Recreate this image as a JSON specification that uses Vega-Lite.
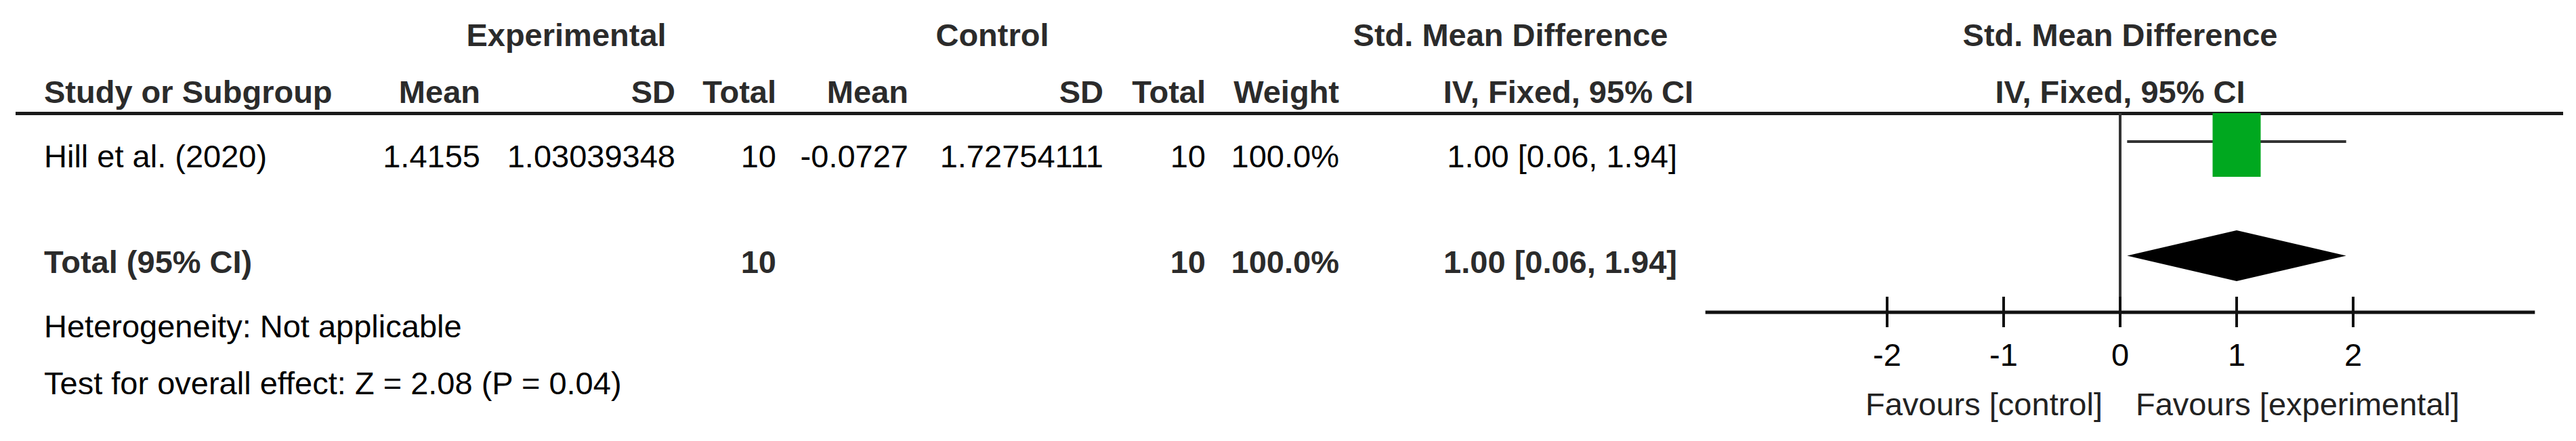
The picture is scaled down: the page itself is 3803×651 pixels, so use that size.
{
  "$schema": "https://vega.github.io/schema/vega-lite/v6.json",
  "width": 3803,
  "height": 651,
  "autosize": {"type": "fit", "contains": "padding"},
  "padding": 0,
  "background": "#ffffff",
  "config": {"view": {"stroke": null}},
  "datasets": {
    "groupHeads": [
      {"col": 1, "row": 0, "label": "Experimental"},
      {"col": 5, "row": 0, "label": "Control"},
      {"col": 10, "row": 0, "label": "Std. Mean Difference"},
      {"col": 13, "row": 0, "label": "Std. Mean Difference"},
      {"col": 13, "row": 1, "label": "IV, Fixed, 95% CI"}
    ],
    "colHeads": [
      {"col": 2, "row": 1, "label": "Mean"},
      {"col": 3, "row": 1, "label": "SD"},
      {"col": 4, "row": 1, "label": "Total"},
      {"col": 6, "row": 1, "label": "Mean"},
      {"col": 7, "row": 1, "label": "SD"},
      {"col": 8, "row": 1, "label": "Total"},
      {"col": 9, "row": 1, "label": "Weight"},
      {"col": 12, "row": 1, "label": "IV, Fixed, 95% CI"}
    ],
    "boldLabels": [
      {"col": 0, "row": 1, "label": "Study or Subgroup"},
      {"col": 0, "row": 3, "label": "Total (95% CI)"}
    ],
    "plainLabels": [
      {"col": 0, "row": 2, "label": "Hill et al. (2020)"},
      {"col": 0, "row": 4, "label": "Heterogeneity: Not applicable"},
      {"col": 0, "row": 5, "label": "Test for overall effect: Z = 2.08 (P = 0.04)"}
    ],
    "studyCells": [
      {"col": 2, "row": 2, "label": "1.4155"},
      {"col": 3, "row": 2, "label": "1.03039348"},
      {"col": 4, "row": 2, "label": "10"},
      {"col": 6, "row": 2, "label": "-0.0727"},
      {"col": 7, "row": 2, "label": "1.72754111"},
      {"col": 8, "row": 2, "label": "10"},
      {"col": 9, "row": 2, "label": "100.0%"},
      {"col": 11, "row": 2, "label": "1.00 [0.06, 1.94]"}
    ],
    "totalCells": [
      {"col": 4, "row": 3, "label": "10"},
      {"col": 8, "row": 3, "label": "10"},
      {"col": 9, "row": 3, "label": "100.0%"},
      {"col": 11, "row": 3, "label": "1.00 [0.06, 1.94]"}
    ],
    "studies": [{"study": "Hill et al. (2020)", "smd": 1.0, "lo": 0.06, "hi": 1.94}],
    "pooled": [
      {"x": 0.06, "top": 0, "bottom": 0},
      {"x": 1.0, "top": 1, "bottom": -1},
      {"x": 1.94, "top": 0, "bottom": 0}
    ],
    "ticks": [
      {"tick": -2, "label": "-2"},
      {"tick": -1, "label": "-1"},
      {"tick": 0, "label": "0"},
      {"tick": 1, "label": "1"},
      {"tick": 2, "label": "2"}
    ],
    "favours": [
      {"side": "control", "label": "Favours [control]"},
      {"side": "experimental", "label": "Favours [experimental]"}
    ]
  },
  "resolve": {"scale": {"x": "independent", "y": "independent"}},
  "layer": [
    {
      "data": {"values": [{}]},
      "mark": {"type": "rule", "strokeWidth": 5, "color": "#1a1a1a"},
      "encoding": {
        "x": {"datum": -1, "type": "quantitative", "axis": null, "scale": {"type": "linear", "domain": [-1, 0, 1, 2, 3, 4, 5, 6, 7, 8, 9, 10, 11, 12, 13, 14], "range": [23, 65, 836, 709, 997, 1146, 1465, 1341, 1629, 1780, 1977, 2230, 2476, 2500, 3130, 3784], "nice": false, "zero": false}},
        "x2": {"datum": 14},
        "y": {"datum": 1.5, "type": "quantitative", "axis": null, "scale": {"type": "linear", "domain": [0, 1, 1.5, 2, 3, 4, 5], "range": [68, 152, 167.5, 247, 403, 498, 582], "nice": false, "zero": false}}
      }
    },
    {
      "data": {"values": [{}]},
      "mark": {"type": "rule", "strokeWidth": 4, "color": "#333333"},
      "encoding": {
        "x": {"datum": 0, "type": "quantitative", "axis": null, "scale": {"type": "linear", "domain": [-2, 2], "range": [2786, 3474], "nice": false, "zero": false}},
        "y": {"datum": 1, "type": "quantitative", "axis": null, "scale": {"type": "linear", "domain": [1, 2, 3, 4, 5, 6], "range": [167, 209, 377, 461, 540, 613], "nice": false, "zero": false}},
        "y2": {"datum": 4}
      }
    },
    {
      "data": {"name": "studies"},
      "mark": {"type": "rule", "strokeWidth": 4, "color": "#333333"},
      "encoding": {
        "x": {"field": "lo", "type": "quantitative", "axis": null, "scale": {"type": "linear", "domain": [-2, 2], "range": [2786, 3474], "nice": false, "zero": false}},
        "x2": {"field": "hi"},
        "y": {"datum": 2, "type": "quantitative", "axis": null, "scale": {"type": "linear", "domain": [1, 2, 3, 4, 5, 6], "range": [167, 209, 377, 461, 540, 613], "nice": false, "zero": false}}
      }
    },
    {
      "data": {"name": "studies"},
      "mark": {"type": "point", "shape": "M-0.755,-1L0.755,-1L0.755,1L-0.755,1Z", "size": 8836, "filled": true, "opacity": 1, "color": "#00a81f", "yOffset": 5},
      "encoding": {
        "x": {"field": "smd", "type": "quantitative", "axis": null, "scale": {"type": "linear", "domain": [-2, 2], "range": [2786, 3474], "nice": false, "zero": false}},
        "y": {"datum": 2, "type": "quantitative", "axis": null, "scale": {"type": "linear", "domain": [1, 2, 3, 4, 5, 6], "range": [167, 209, 377, 461, 540, 613], "nice": false, "zero": false}}
      }
    },
    {
      "data": {"name": "pooled"},
      "mark": {"type": "area", "color": "#000000", "opacity": 1},
      "encoding": {
        "x": {"field": "x", "type": "quantitative", "axis": null, "scale": {"type": "linear", "domain": [-2, 2], "range": [2786, 3474], "nice": false, "zero": false}},
        "y": {"field": "top", "type": "quantitative", "axis": null, "scale": {"type": "linear", "domain": [-1, 1], "range": [415, 340], "nice": false, "zero": false}},
        "y2": {"field": "bottom"}
      }
    },
    {
      "data": {"values": [{}]},
      "mark": {"type": "rule", "strokeWidth": 5, "color": "#111111"},
      "encoding": {
        "x": {"datum": -3.56, "type": "quantitative", "axis": null, "scale": {"type": "linear", "domain": [-2, 2], "range": [2786, 3474], "nice": false, "zero": false}},
        "x2": {"datum": 3.56},
        "y": {"datum": 4, "type": "quantitative", "axis": null, "scale": {"type": "linear", "domain": [1, 2, 3, 4, 5, 6], "range": [167, 209, 377, 461, 540, 613], "nice": false, "zero": false}}
      }
    },
    {
      "data": {"name": "ticks"},
      "mark": {"type": "rule", "strokeWidth": 4, "color": "#111111", "yOffset": -23, "y2Offset": 22},
      "encoding": {
        "x": {"field": "tick", "type": "quantitative", "axis": null, "scale": {"type": "linear", "domain": [-2, 2], "range": [2786, 3474], "nice": false, "zero": false}},
        "y": {"datum": 4, "type": "quantitative", "axis": null, "scale": {"type": "linear", "domain": [1, 2, 3, 4, 5, 6], "range": [167, 209, 377, 461, 540, 613], "nice": false, "zero": false}},
        "y2": {"datum": 4}
      }
    },
    {
      "data": {"name": "ticks"},
      "mark": {"type": "text", "font": "Liberation Sans, Arial, sans-serif", "fontSize": 47, "align": "center", "baseline": "alphabetic", "color": "#000000"},
      "encoding": {
        "x": {"field": "tick", "type": "quantitative", "axis": null, "scale": {"type": "linear", "domain": [-2, 2], "range": [2786, 3474], "nice": false, "zero": false}},
        "y": {"datum": 5, "type": "quantitative", "axis": null, "scale": {"type": "linear", "domain": [1, 2, 3, 4, 5, 6], "range": [167, 209, 377, 461, 540, 613], "nice": false, "zero": false}},
        "text": {"field": "label"}
      }
    },
    {
      "data": {"name": "favours"},
      "transform": [{"filter": "datum.side === 'control'"}],
      "mark": {"type": "text", "font": "Liberation Sans, Arial, sans-serif", "fontSize": 47, "align": "right", "baseline": "alphabetic", "dx": -26, "color": "#222222"},
      "encoding": {
        "x": {"datum": 0, "type": "quantitative", "axis": null, "scale": {"type": "linear", "domain": [-2, 2], "range": [2786, 3474], "nice": false, "zero": false}},
        "y": {"datum": 6, "type": "quantitative", "axis": null, "scale": {"type": "linear", "domain": [1, 2, 3, 4, 5, 6], "range": [167, 209, 377, 461, 540, 613], "nice": false, "zero": false}},
        "text": {"field": "label"}
      }
    },
    {
      "data": {"name": "favours"},
      "transform": [{"filter": "datum.side === 'experimental'"}],
      "mark": {"type": "text", "font": "Liberation Sans, Arial, sans-serif", "fontSize": 47, "align": "left", "baseline": "alphabetic", "dx": 23, "color": "#222222"},
      "encoding": {
        "x": {"datum": 0, "type": "quantitative", "axis": null, "scale": {"type": "linear", "domain": [-2, 2], "range": [2786, 3474], "nice": false, "zero": false}},
        "y": {"datum": 6, "type": "quantitative", "axis": null, "scale": {"type": "linear", "domain": [1, 2, 3, 4, 5, 6], "range": [167, 209, 377, 461, 540, 613], "nice": false, "zero": false}},
        "text": {"field": "label"}
      }
    },
    {
      "data": {"name": "groupHeads"},
      "mark": {"type": "text", "font": "Liberation Sans, Arial, sans-serif", "fontSize": 47, "fontWeight": "bold", "align": "center", "baseline": "alphabetic", "color": "#2b2b2b"},
      "encoding": {
        "x": {"field": "col", "type": "quantitative", "axis": null, "scale": {"type": "linear", "domain": [-1, 0, 1, 2, 3, 4, 5, 6, 7, 8, 9, 10, 11, 12, 13, 14], "range": [23, 65, 836, 709, 997, 1146, 1465, 1341, 1629, 1780, 1977, 2230, 2476, 2500, 3130, 3784], "nice": false, "zero": false}},
        "y": {"field": "row", "type": "quantitative", "axis": null, "scale": {"type": "linear", "domain": [0, 1, 1.5, 2, 3, 4, 5], "range": [68, 152, 167.5, 247, 403, 498, 582], "nice": false, "zero": false}},
        "text": {"field": "label"}
      }
    },
    {
      "data": {"name": "colHeads"},
      "mark": {"type": "text", "font": "Liberation Sans, Arial, sans-serif", "fontSize": 47, "fontWeight": "bold", "align": "right", "baseline": "alphabetic", "color": "#2b2b2b"},
      "encoding": {
        "x": {"field": "col", "type": "quantitative", "axis": null, "scale": {"type": "linear", "domain": [-1, 0, 1, 2, 3, 4, 5, 6, 7, 8, 9, 10, 11, 12, 13, 14], "range": [23, 65, 836, 709, 997, 1146, 1465, 1341, 1629, 1780, 1977, 2230, 2476, 2500, 3130, 3784], "nice": false, "zero": false}},
        "y": {"field": "row", "type": "quantitative", "axis": null, "scale": {"type": "linear", "domain": [0, 1, 1.5, 2, 3, 4, 5], "range": [68, 152, 167.5, 247, 403, 498, 582], "nice": false, "zero": false}},
        "text": {"field": "label"}
      }
    },
    {
      "data": {"name": "boldLabels"},
      "mark": {"type": "text", "font": "Liberation Sans, Arial, sans-serif", "fontSize": 47, "fontWeight": "bold", "align": "left", "baseline": "alphabetic", "color": "#2b2b2b"},
      "encoding": {
        "x": {"field": "col", "type": "quantitative", "axis": null, "scale": {"type": "linear", "domain": [-1, 0, 1, 2, 3, 4, 5, 6, 7, 8, 9, 10, 11, 12, 13, 14], "range": [23, 65, 836, 709, 997, 1146, 1465, 1341, 1629, 1780, 1977, 2230, 2476, 2500, 3130, 3784], "nice": false, "zero": false}},
        "y": {"field": "row", "type": "quantitative", "axis": null, "scale": {"type": "linear", "domain": [0, 1, 1.5, 2, 3, 4, 5], "range": [68, 152, 167.5, 247, 403, 498, 582], "nice": false, "zero": false}},
        "text": {"field": "label"}
      }
    },
    {
      "data": {"name": "plainLabels"},
      "mark": {"type": "text", "font": "Liberation Sans, Arial, sans-serif", "fontSize": 47, "align": "left", "baseline": "alphabetic", "color": "#000000"},
      "encoding": {
        "x": {"field": "col", "type": "quantitative", "axis": null, "scale": {"type": "linear", "domain": [-1, 0, 1, 2, 3, 4, 5, 6, 7, 8, 9, 10, 11, 12, 13, 14], "range": [23, 65, 836, 709, 997, 1146, 1465, 1341, 1629, 1780, 1977, 2230, 2476, 2500, 3130, 3784], "nice": false, "zero": false}},
        "y": {"field": "row", "type": "quantitative", "axis": null, "scale": {"type": "linear", "domain": [0, 1, 1.5, 2, 3, 4, 5], "range": [68, 152, 167.5, 247, 403, 498, 582], "nice": false, "zero": false}},
        "text": {"field": "label"}
      }
    },
    {
      "data": {"name": "studyCells"},
      "mark": {"type": "text", "font": "Liberation Sans, Arial, sans-serif", "fontSize": 47, "align": "right", "baseline": "alphabetic", "color": "#000000"},
      "encoding": {
        "x": {"field": "col", "type": "quantitative", "axis": null, "scale": {"type": "linear", "domain": [-1, 0, 1, 2, 3, 4, 5, 6, 7, 8, 9, 10, 11, 12, 13, 14], "range": [23, 65, 836, 709, 997, 1146, 1465, 1341, 1629, 1780, 1977, 2230, 2476, 2500, 3130, 3784], "nice": false, "zero": false}},
        "y": {"field": "row", "type": "quantitative", "axis": null, "scale": {"type": "linear", "domain": [0, 1, 1.5, 2, 3, 4, 5], "range": [68, 152, 167.5, 247, 403, 498, 582], "nice": false, "zero": false}},
        "text": {"field": "label"}
      }
    },
    {
      "data": {"name": "totalCells"},
      "mark": {"type": "text", "font": "Liberation Sans, Arial, sans-serif", "fontSize": 47, "fontWeight": "bold", "align": "right", "baseline": "alphabetic", "color": "#2b2b2b"},
      "encoding": {
        "x": {"field": "col", "type": "quantitative", "axis": null, "scale": {"type": "linear", "domain": [-1, 0, 1, 2, 3, 4, 5, 6, 7, 8, 9, 10, 11, 12, 13, 14], "range": [23, 65, 836, 709, 997, 1146, 1465, 1341, 1629, 1780, 1977, 2230, 2476, 2500, 3130, 3784], "nice": false, "zero": false}},
        "y": {"field": "row", "type": "quantitative", "axis": null, "scale": {"type": "linear", "domain": [0, 1, 1.5, 2, 3, 4, 5], "range": [68, 152, 167.5, 247, 403, 498, 582], "nice": false, "zero": false}},
        "text": {"field": "label"}
      }
    }
  ]
}
